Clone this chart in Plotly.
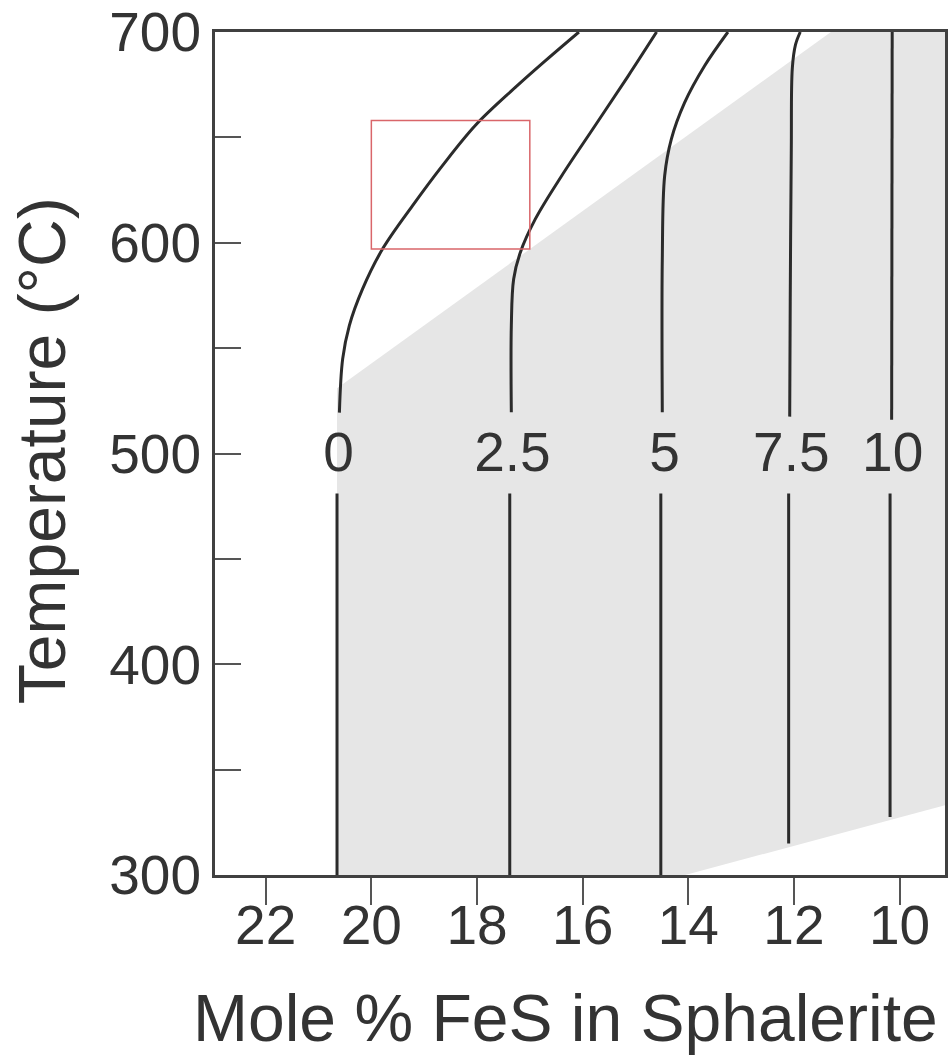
import plotly.graph_objects as go

# ---- data ----
x_ticks = [22, 20, 18, 16, 14, 12, 10]
y_ticks = [300, 400, 500, 600, 700]

# shaded field (Mole % FeS, T)
shade_x = [20.65, 20.65, 11.3, 9.0, 9.0, 14.06]
shade_T = [300, 531, 700, 700, 334, 300]

# isopleth labels
iso_labels = ["0", "2.5", "5", "7.5", "10"]
label_x = [20.62, 17.33, 14.45, 12.05, 10.13]
label_T = [498, 498, 498, 498, 498]

# lower (vertical) segments
low_x = [[20.65, 20.65], [17.38, 17.38], [14.52, 14.52], [12.10, 12.10], [10.18, 10.18]]
low_T = [[300, 481], [300, 481], [300, 481], [315, 481], [327.5, 481]]

# upper (curved) segments
up_x = [
    [20.605, 20.543, 20.417, 20.166, 19.789, 19.223, 18.658, 18.02, 17.28, 16.709, 16.07],
    [17.350, 17.350, 17.306, 17.180, 16.897, 16.396, 15.766, 15.139, 14.60],
    [14.492, 14.492, 14.447, 14.322, 14.070, 13.693, 13.25],
    [12.08, 12.07, 12.05, 12.03, 11.97, 11.88],
    [10.15, 10.14],
]
up_T = [
    [519.4, 544.9, 560.7, 578.1, 597.0, 617.5, 636.5, 656.0, 673.6, 686.3, 700],
    [519.6, 560.7, 582.8, 595.4, 611.2, 631.8, 655.5, 679.1, 700],
    [519.6, 592.3, 631.8, 649.1, 666.5, 683.9, 700],
    [517.5, 572, 644, 683, 694, 700],
    [516, 700],
]

# highlighted box
box_x = [20.0, 17.0]
box_T = [597, 658]

FONT = "Liberation Sans, Arial, Helvetica, sans-serif"
TXT = "#333333"
LINE = "#2b2b2b"

fig = go.Figure()

fig.add_trace(go.Scatter(x=shade_x, y=shade_T, fill="toself", mode="lines",
                         line=dict(width=0), fillcolor="#e6e6e6",
                         hoverinfo="skip", showlegend=False))

for lx, lt in zip(low_x, low_T):
    fig.add_trace(go.Scatter(x=lx, y=lt, mode="lines",
                             line=dict(color=LINE, width=3),
                             showlegend=False))
for ux, ut in zip(up_x, up_T):
    fig.add_trace(go.Scatter(x=ux, y=ut, mode="lines",
                             line=dict(color=LINE, width=3, shape="spline", smoothing=1.0),
                             showlegend=False))

fig.add_trace(go.Scatter(x=label_x, y=label_T, mode="text", text=iso_labels,
                         textfont=dict(family=FONT, size=55, color=TXT),
                         textposition="middle center", showlegend=False))

fig.add_shape(type="rect", x0=box_x[0], x1=box_x[1], y0=box_T[0], y1=box_T[1],
              xref="x", yref="y", line=dict(color="#d9666a", width=1.5))

fig.update_layout(
    width=949, height=1061,
    margin=dict(l=215, r=1, t=31, b=186),
    paper_bgcolor="white", plot_bgcolor="white",
    font=dict(family=FONT, color=TXT),
    showlegend=False,
)

fig.update_xaxes(
    range=[22.96, 9.14], tickvals=x_ticks, ticktext=[str(v) for v in x_ticks],
    ticks="outside", ticklen=27, tickwidth=2, tickcolor="#555555",
    ticklabelstandoff=-27,
    tickfont=dict(family=FONT, size=55, color=TXT),
    showline=True, linewidth=3, linecolor="#404040", mirror=True,
    showgrid=False, zeroline=False,
)
fig.update_yaxes(
    range=[300, 700], tickvals=y_ticks, ticktext=[str(v) for v in y_ticks],
    ticks="inside", ticklen=26, tickwidth=2, tickcolor="#555555",
    minor=dict(ticks="inside", dtick=50, tick0=300, ticklen=26, tickwidth=2, tickcolor="#555555"),
    tickfont=dict(family=FONT, size=55, color=TXT),
    showline=True, linewidth=3, linecolor="#404040", mirror=True,
    showgrid=False, zeroline=False,
)

fig.add_annotation(text="Mole % FeS in Sphalerite", xref="paper", yref="paper",
                   x=(567 - 215) / 733, y=(875 - 1018) / 844,
                   xanchor="center", yanchor="middle", showarrow=False,
                   font=dict(family=FONT, size=66, color=TXT))
fig.add_annotation(text="Temperature (°C)", xref="paper", yref="paper",
                   x=(41 - 215) / 733, y=(875 - 450) / 844,
                   xanchor="center", yanchor="middle", showarrow=False, textangle=-90,
                   font=dict(family=FONT, size=66, color=TXT))

fig.write_html("out.html")
